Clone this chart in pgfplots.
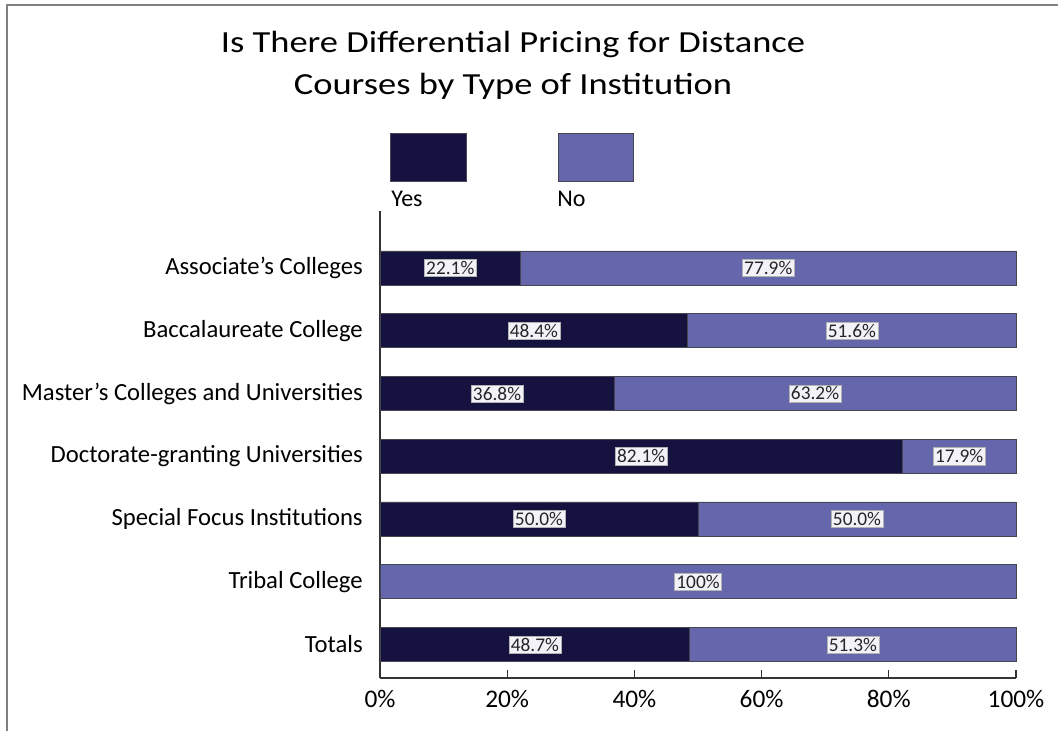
\documentclass[border=0pt]{standalone}
\usepackage{pgfplots}
\pgfplotsset{compat=1.18}
\usepackage{pgfplotstable}
\usepackage{fontspec}
\setmainfont{Carlito}
\newfontfamily\titlefont[FakeStretch=1.19]{Carlito}

\definecolor{yescol}{RGB}{22,18,64}
\definecolor{nocol}{RGB}{102,102,172}
\definecolor{edgecol}{RGB}{70,70,80}
\definecolor{tagfill}{RGB}{242,242,248}

% pos: 6 = top row, 0 = Totals
\pgfplotstableread{
pos yes no
6 22.1 77.9
5 48.4 51.6
4 36.8 63.2
3 82.1 17.9
2 50.0 50.0
1 0 100
0 48.7 51.3
}\pricing

\pgfplotsset{
  chartbox/.style={
    at={(285pt,-508.5pt)}, anchor=south west,
    scale only axis, width=477pt, height=350.25pt,
    xmin=0, xmax=100, ymin=-0.534, ymax=6.908,
  },
}

\begin{document}
\begin{tikzpicture}
\begin{scope}[x=0.75pt,y=-0.75pt]
  \path[use as bounding box] (0,0) rectangle (1058,731);
  \draw[gray, line width=1.5pt] (7,731) -- (7,5) -- (1058,5);
  \node[anchor=base, inner sep=0pt, font=\titlefont\fontsize{23}{28}\selectfont] at (513,53)
    {Is There Differential Pricing for Distance};
  \node[anchor=base, inner sep=0pt, font=\titlefont\fontsize{23}{28}\selectfont] at (513,95)
    {Courses by Type of Institution};
  % legend
  \draw[edgecol, fill=yescol, line width=0.6pt] (390,133) rectangle (466,181);
  \draw[edgecol, fill=nocol, line width=0.6pt] (558,133) rectangle (633,181);
  \node[anchor=base west, inner sep=0pt, font=\fontsize{18}{20}\selectfont] at (391,207) {Yes};
  \node[anchor=base west, inner sep=0pt, font=\fontsize{18}{20}\selectfont] at (557,207) {No};
\end{scope}

\begin{axis}[
  chartbox,
  xbar stacked,
  bar width=0.542,
  axis x line*=bottom, axis y line*=left,
  axis line style={-, black!80, line width=0.8pt},
  xtick={0,20,...,100},
  xticklabel={\pgfmathprintnumber{\tick}\%},
  /pgf/number format/assume math mode=true,
  tick align=inside,
  xtick style={black!80, line width=0.8pt},
  major tick length=6pt,
  xticklabel style={inner sep=0pt, yshift=-9pt, font=\fontsize{19}{21}\selectfont},
  ytick={0,...,6},
  yticklabels={Totals, Tribal College, Special Focus Institutions,
    Doctorate-granting Universities, Master’s Colleges and Universities,
    Baccalaureate College, Associate’s Colleges},
  ytick style={draw=none},
  yticklabel style={inner sep=0pt, xshift=-12.75pt, font=\fontsize{18.5}{20}\selectfont},
  clip=false,
]
\addplot[fill=yescol, draw=edgecol, line width=0.6pt] table[x=yes, y=pos] {\pricing};
\addplot[fill=nocol, draw=edgecol, line width=0.6pt] table[x=no, y=pos] {\pricing};
\end{axis}

\begin{axis}[
  chartbox,
  hide axis,
  clip=false,
  nodes near coords={\pgfplotspointmeta\%},
  every node near coord/.style={anchor=center, fill=tagfill, draw=gray!60,
    line width=0.3pt, inner sep=1.5pt, text=black!85,
    font=\fontsize{14.5}{16}\selectfont},
]
\addplot[only marks, mark=*, mark size=0pt, mark options={draw=none, fill=none},
  point meta=explicit symbolic, restrict x to domain=0.01:100]
  table[x expr=\thisrow{yes}/2, y=pos, meta=yes] {\pricing};
\addplot[only marks, mark=*, mark size=0pt, mark options={draw=none, fill=none},
  point meta=explicit symbolic, restrict x to domain=0.01:100]
  table[x expr=\thisrow{yes}+\thisrow{no}/2, y=pos, meta=no] {\pricing};
\end{axis}
\end{tikzpicture}
\end{document}
